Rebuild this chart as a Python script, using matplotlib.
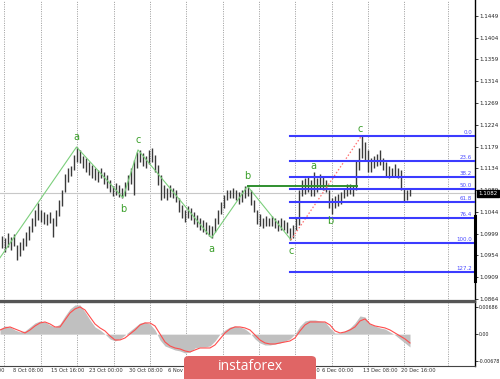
import matplotlib
matplotlib.use("Agg")
import matplotlib.pyplot as plt
from matplotlib.patches import FancyBboxPatch

# ---------------- data ----------------
bar_high = [1.0994,1.0990,1.1000,1.0992,1.0998,1.0975,1.0982,1.0990,1.1002,1.1015,
            1.1031,1.1048,1.1062,1.1048,1.1044,1.1040,1.1044,1.1031,1.1048,1.1069,
            1.1089,1.1122,1.1135,1.1139,1.1161,1.1178,1.1172,1.1159,1.1155,1.1147,
            1.1141,1.1135,1.1131,1.1135,1.1126,1.1120,1.1110,1.1097,1.1104,1.1100,
            1.1093,1.1106,1.1120,1.1135,1.1151,1.1168,1.1172,1.1166,1.1159,1.1172,
            1.1176,1.1161,1.1141,1.1120,1.1100,1.1093,1.1100,1.1093,1.1089,1.1073,
            1.1058,1.1048,1.1056,1.1052,1.1044,1.1038,1.1031,1.1027,1.1023,1.1017,
            1.1015,1.1031,1.1048,1.1064,1.1079,1.1089,1.1089,1.1093,1.1089,1.1085,
            1.1089,1.1097,1.1100,1.1089,1.1069,1.1048,1.1040,1.1031,1.1035,1.1031,
            1.1035,1.1031,1.1027,1.1031,1.1027,1.1023,1.1011,1.1017,1.1031,1.1089,
            1.1110,1.1114,1.1118,1.1110,1.1126,1.1114,1.1122,1.1118,1.1110,1.1089,
            1.1073,1.1077,1.1081,1.1085,1.1093,1.1102,1.1102,1.1097,1.1151,1.1176,
            1.1201,1.1189,1.1172,1.1155,1.1159,1.1164,1.1172,1.1155,1.1147,1.1139,
            1.1135,1.1143,1.1135,1.1131,1.1093,1.1089,1.1093]
bar_low = [1.0969,1.0961,1.0971,1.0965,1.0973,1.0945,1.0953,1.0965,1.0973,1.0986,
           1.1002,1.1015,1.1027,1.1023,1.1019,1.1017,1.1021,1.0992,1.1015,1.1035,
           1.1056,1.1085,1.1106,1.1118,1.1131,1.1147,1.1145,1.1135,1.1126,1.1120,
           1.1114,1.1110,1.1106,1.1114,1.1102,1.1093,1.1085,1.1077,1.1079,1.1075,
           1.1073,1.1077,1.1089,1.1102,1.1079,1.1135,1.1147,1.1139,1.1135,1.1143,
           1.1147,1.1126,1.1100,1.1069,1.1073,1.1069,1.1075,1.1073,1.1064,1.1044,
           1.1031,1.1023,1.1031,1.1027,1.1019,1.1013,1.1007,1.1002,1.0998,1.0994,
           1.0990,1.1002,1.1019,1.1040,1.1052,1.1069,1.1073,1.1073,1.1069,1.1060,
           1.1064,1.1073,1.1077,1.1058,1.1044,1.1019,1.1015,1.1011,1.1015,1.1015,
           1.1015,1.1011,1.1004,1.1007,1.1007,1.1000,1.0986,1.0990,1.1007,1.1017,
           1.1077,1.1081,1.1085,1.1077,1.1077,1.1085,1.1093,1.1089,1.1085,1.1052,
           1.1040,1.1052,1.1056,1.1060,1.1073,1.1077,1.1081,1.1077,1.1089,1.1131,
           1.1155,1.1151,1.1126,1.1126,1.1135,1.1139,1.1141,1.1131,1.1118,1.1114,
           1.1118,1.1118,1.1114,1.1089,1.1064,1.1069,1.1077]

zigzag_bars = [-0.5, 25, 40.5, 45.5, 70, 82, 96.5]
zigzag_prices = [1.0949, 1.1178, 1.1073, 1.1172, 1.0990, 1.1097, 1.0986]
wave_labels = ["", "a", "b", "c", "a", "b", "c"]
wave_label_side = [0, 1, -1, 1, -1, 1, -1]

wave2_labels = ["a", "b", "c"]
wave2_bars = [103.8, 109.5, 119.5]
wave2_prices = [1.1126, 1.1040, 1.1201]

fib_top = 1.1201
fib_bottom = 1.0980
fib_levels = [0.0, 23.6, 38.2, 50.0, 61.8, 76.4, 100.0, 127.2]
fib_start_bar = 96.2

b_level = 1.1097
b_level_bars = [82, 118.5]
current_price = 1.1082

price_ticks = [1.1449, 1.1404, 1.1359, 1.1314, 1.1269, 1.1224, 1.1179, 1.1134,
               1.1089, 1.1044, 1.0999, 1.0954, 1.0909, 1.0864]

# indicator (values in 1e-3), sampled every 5 px of chart width
ind_hist = [1.31,2.07,1.82,1.06,0.56,0.81,1.82,2.83,3.33,3.08,2.32,1.82,2.58,4.60,6.37,
            7.38,7.38,5.61,3.59,1.82,1.06,0.05,-1.21,-1.72,-1.21,-0.20,0.81,1.82,2.83,3.08,
            2.58,1.06,-1.47,-2.98,-3.49,-3.99,-4.24,-4.75,-4.50,-3.49,-3.23,-3.23,-2.98,-1.72,0.05,
            1.06,1.82,2.07,1.82,1.31,0.30,-1.21,-2.22,-2.73,-2.73,-2.48,-2.22,-1.72,-1.21,0.05,
            2.07,3.33,3.59,3.59,3.33,3.08,1.57,0.30,0.30,0.81,1.57,2.83,4.60,4.34,2.58,
            2.07,1.57,1.31,0.56,-0.20,-1.21,-2.22,-3.23]
ind_signal = [1.06,1.57,1.82,1.31,0.81,0.30,1.06,2.07,2.83,3.08,2.58,1.82,1.82,3.59,5.36,
              6.37,6.87,6.11,4.34,2.58,1.57,0.81,-0.45,-1.47,-1.47,-0.96,0.05,1.06,2.32,2.83,
              2.83,2.07,0.05,-1.97,-2.98,-3.49,-3.74,-4.24,-4.50,-3.99,-3.49,-3.49,-3.49,-2.73,-1.21,
              0.30,1.31,1.82,1.82,1.57,1.06,-0.20,-1.47,-2.22,-2.48,-2.48,-2.22,-1.97,-1.72,-0.96,
              0.81,2.32,3.08,3.08,3.08,3.08,2.32,0.81,0.30,0.56,1.06,1.82,3.33,3.84,2.58,
              2.07,1.82,1.57,1.06,0.30,-0.45,-1.21,-2.22]
ind_ticks = [0.00686, 0.0, -0.00678]
ind_tick_labels = ["0.00686", "0.00", "-0.00678"]

grid_px = [4, 41, 77, 114, 150, 186, 223, 259, 295, 332, 368, 404, 448]
date_labels = ["1 Oct 00:00", "8 Oct 08:00", "15 Oct 16:00", "23 Oct 00:00", "30 Oct 08:00",
               "6 Nov 16:00", "28 Nov 16:00", "6 Dec 00:00", "13 Dec 08:00", "20 Dec 16:00"]
date_label_px = [-11, 28, 68, 106, 146, 184, 302, 338, 380, 418]

# ---------------- layout ----------------
W, H = 500, 379
fig = plt.figure(figsize=(W / 100, H / 100), dpi=100)
fig.patch.set_facecolor("white")

def px2bar(px):
    return px / 3.0 - 0.5

ax = fig.add_axes([0, (H - 301) / H, 475 / W, 301 / H])
axi = fig.add_axes([0, (H - 366) / H, 475 / W, 64 / H])

xlim = (px2bar(0), px2bar(475))
for a in (ax, axi):
    a.set_xlim(*xlim)
    a.set_facecolor("white")
    a.spines["left"].set_visible(False)
    a.spines["top"].set_visible(False)
    a.spines["right"].set_color("black")
    a.spines["right"].set_linewidth(1.0)
    a.tick_params(axis="x", bottom=False, labelbottom=False)
    a.yaxis.tick_right()
    a.tick_params(axis="y", length=2, width=0.6, pad=0.8, labelsize=4.0, colors="#222222")
    for gx in grid_px:
        a.axvline(px2bar(gx), color="#9a9a9a", lw=0.7, ls=(0, (1, 1.4)), zorder=0)

ax.spines["bottom"].set_color("#555555")
ax.spines["bottom"].set_linewidth(1.6)
axi.spines["top"].set_visible(True)
axi.spines["top"].set_color("#555555")
axi.spines["top"].set_linewidth(1.0)
axi.spines["bottom"].set_color("#444444")
axi.spines["bottom"].set_linewidth(0.8)

ax.set_ylim(1.08595, 1.1482)
ax.set_yticks(price_ticks)
ax.set_yticklabels([f"{t:.4f}" for t in price_ticks])

# price bars
xs = [i for i in range(len(bar_high))]
ax.vlines(xs, bar_low, bar_high, color="#3a3a3a", lw=1.0, zorder=3)

# current price line
ax.axhline(current_price, color="#c8c8c8", lw=0.8, zorder=1)

# zigzag
ax.plot(zigzag_bars, zigzag_prices, color="#7ccf7c", lw=0.8, zorder=4)
for xb, pr, lab, side in zip(zigzag_bars, zigzag_prices, wave_labels, wave_label_side):
    if not lab:
        continue
    off = 0.0010 if side > 0 else -0.0013
    ax.text(xb, pr + off, lab, color="#3a9f2a", fontsize=7, ha="center",
            va="bottom" if side > 0 else "top", zorder=6)

# b level
ax.plot(b_level_bars, [b_level, b_level], color="#2f8f2f", lw=1.4, zorder=4)

# fib levels
rng = fib_top - fib_bottom
for lv in fib_levels:
    pr = fib_top - rng * lv / 100.0
    ax.plot([fib_start_bar, xlim[1]], [pr, pr], color="#3b3bff", lw=1.5, zorder=5)
    ax.text(px2bar(472), pr + 0.0002, f"{lv:.1f}", color="#4a4aff", fontsize=4,
            ha="right", va="bottom", zorder=6)

# red dotted c line
ax.plot([zigzag_bars[-1], wave2_bars[-1] + 0.5], [zigzag_prices[-1], fib_top],
        color="#ff7070", lw=0.9, ls=(0, (1.2, 1.6)), zorder=4)

# second wave labels
for lab, xb, pr in zip(wave2_labels, wave2_bars, wave2_prices):
    if lab == "b":
        ax.text(xb, pr - 0.0004, lab, color="#3a9f2a", fontsize=7, ha="center", va="top", zorder=6)
    else:
        ax.text(xb, pr + 0.0003, lab, color="#3a9f2a", fontsize=7, ha="center", va="bottom", zorder=6)

# right-axis marker segment
ax.plot([xlim[1], xlim[1]], [1.0900, 1.1036], color="black", lw=2.2, clip_on=False, zorder=7)

# current price box
ax.text(px2bar(478), current_price, f"{current_price:.4f}", color="white", fontsize=4.0,
        ha="left", va="center", zorder=8, clip_on=False,
        bbox=dict(boxstyle="square,pad=0.25", fc="black", ec="black"))

# indicator
ind_x = [px2bar(5 * k) for k in range(len(ind_hist))]
hist_vals = [v * 1e-3 for v in ind_hist]
sig_vals = [v * 1e-3 for v in ind_signal]
axi.fill_between(ind_x, 0, hist_vals, color="#c0c0c0", lw=0, zorder=2)
axi.plot(ind_x, sig_vals, color="#ff4d4d", lw=0.8, zorder=3)
axi.set_ylim(-0.00804, 0.00812)
axi.set_yticks(ind_ticks)
axi.set_yticklabels(ind_tick_labels, fontsize=3.4)

# date labels
for lab, px in zip(date_labels, date_label_px):
    fig.text(px / W, 1 - 371 / H, lab, fontsize=3.7, color="#333333", ha="center", va="center")

# watermark
wm = FancyBboxPatch((184 / W, 0.0 - 5 / H), 132 / W, 28 / H,
                    boxstyle="round,pad=0,rounding_size=0.01",
                    transform=fig.transFigure, fc="#e06565", ec="none", zorder=20)
fig.patches.append(wm)
fig.text(250 / W, 1 - 367 / H, "instaforex", fontsize=10, color="white",
         ha="center", va="center", zorder=21, family="Open Sans")

fig.savefig("out.png", dpi=100)
